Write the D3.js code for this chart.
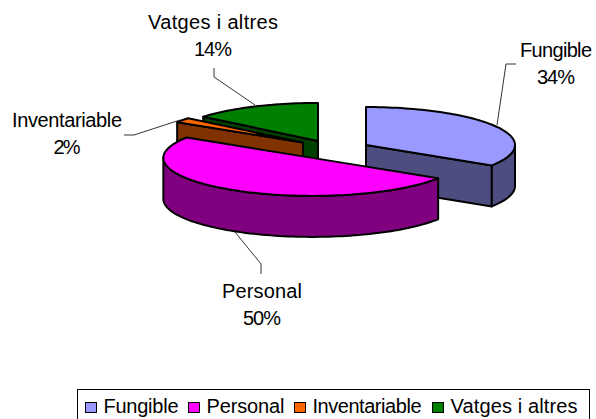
<!DOCTYPE html>
<html><head><meta charset="utf-8">
<script src="https://cdn.jsdelivr.net/npm/d3@7/dist/d3.min.js"></script>
<style>html,body{margin:0;padding:0;background:#fff}svg{display:block}text{font-family:"Liberation Sans",Arial,sans-serif;font-size:20px;fill:#000}</style>
</head><body><svg id="c" width="596" height="419"></svg>
<script>
const categories = ["Fungible","Personal","Inventariable","Vatges i altres"];
const values = [34,50,2,14];
const topColors = ["#9999FF","#FF00FF","#FF6600","#008000"];
const sideColors = ["#4D4D80","#800080","#803300","#004000"];
const drawOrder = [0,3,2,1];

const W=596,H=419,cx=332.7,cy=149.7,rx=149,ry=38,depth=41,explode=38;
const nudge=[[0,0],[0,0],[1,-1.5],[1.5,0]];
const labelWidths=[72,80,110,130], legendWidths=[75,78,109,127], percentWidths=[38,38,27,38];
const svg=d3.select("#c");
const arcs=d3.pie().sort(null).startAngle(0).endAngle(2*Math.PI)(values);
const px=d3.scaleLinear().domain([-1,1]).range([-rx,rx]);
const py=d3.scaleLinear().domain([-1,1]).range([-ry,ry]);
const line=d3.line();

function ring(a0,a1,ox,oy,dy){
  const n=Math.max(2,Math.ceil((a1-a0)/0.03));
  return d3.range(n+1).map(i=>{const a=a0+(a1-a0)*i/n;
    return [ox+px(Math.sin(a)),oy+py(-Math.cos(a))+dy];});
}
function pathOf(pts){return line(pts)+"Z";}

drawOrder.forEach(i=>{
  const d=arcs[i],mid=(d.startAngle+d.endAngle)/2;
  const ox=cx+px(Math.sin(mid))*explode/rx+nudge[i][0], oy=cy+py(-Math.cos(mid))*explode/rx+nudge[i][1];
  const g=svg.append("g").attr("stroke","#000").attr("stroke-width",2).attr("stroke-linejoin","round");
  const side=sideColors[i];
  const face=(a)=>{const p=ring(a,a,ox,oy,0)[0];
    return [[ox,oy],p,[p[0],p[1]+depth],[ox,oy+depth]];};
  if(Math.cos(d.endAngle)<0&&Math.sin(d.endAngle)>0) g.append("path").attr("d",pathOf(face(d.endAngle))).attr("fill",side);
  if(Math.cos(d.startAngle)>0&&Math.sin(d.startAngle)<0||i===2) g.append("path").attr("d",pathOf(face(d.startAngle))).attr("fill",side);
  const w0=Math.max(d.startAngle,Math.PI/2), w1=Math.min(d.endAngle,3*Math.PI/2);
  if(w1>w0){
    const top=ring(w0,w1,ox,oy,0), bot=ring(w0,w1,ox,oy,depth).reverse();
    g.append("path").attr("d",pathOf(top.concat(bot))).attr("fill",side);
  }
  g.append("path").attr("d",pathOf([[ox,oy]].concat(ring(d.startAngle,d.endAngle,ox,oy,0)))).attr("fill",topColors[i]);
});

const leaders=[
  [[497,125],[506,64],[516,64]],
  [[235,232],[261,264],[261,274]],
  [[180,120],[134,135],[124,135]],
  [[255,105],[214,77],[214,68]]
];
leaders.forEach(p=>svg.append("path").attr("d",line(p)).attr("fill","none").attr("stroke","#333").attr("stroke-width",1));

const labelPos=[[556,57],[262,298],[67,127],[213,29]];
categories.forEach((c,i)=>{
  svg.append("text").attr("text-anchor","middle").attr("x",labelPos[i][0]).attr("y",labelPos[i][1])
    .attr("textLength",labelWidths[i]).attr("lengthAdjust","spacing").text(c);
  svg.append("text").attr("text-anchor","middle").attr("x",labelPos[i][0]).attr("y",labelPos[i][1]+27)
    .attr("textLength",percentWidths[i]).attr("lengthAdjust","spacing").text(values[i]+"%");
});

svg.append("rect").attr("x",77.5).attr("y",389.5).attr("width",512).attr("height",40).attr("fill","#fff").attr("stroke","#000");
const lx=[85,188,294,432];
categories.forEach((c,i)=>{
  svg.append("rect").attr("x",lx[i]+.5).attr("y",402.5).attr("width",11).attr("height",10).attr("fill",topColors[i]).attr("stroke","#000");
  svg.append("text").attr("x",lx[i]+18.5).attr("y",412.5).attr("textLength",legendWidths[i]).attr("lengthAdjust","spacing").text(c);
});
</script></body></html>
